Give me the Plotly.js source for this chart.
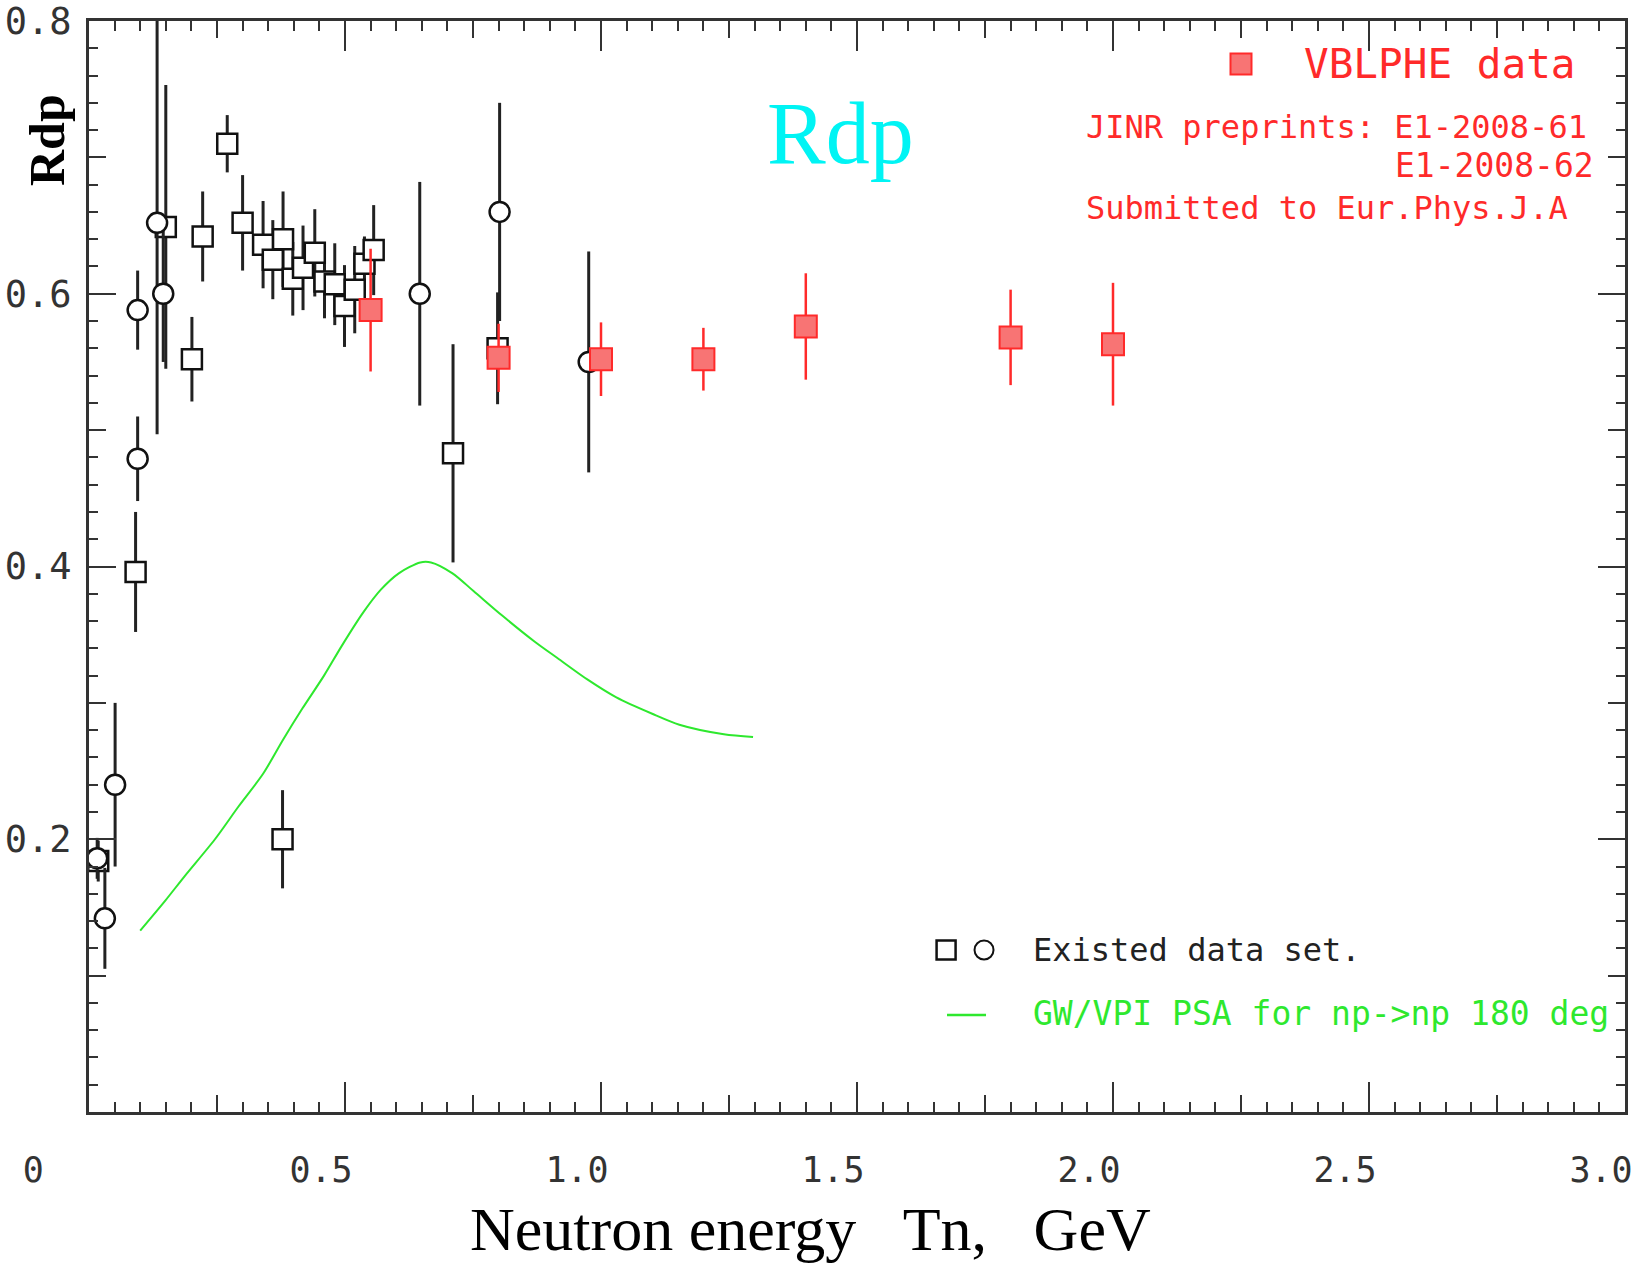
<!DOCTYPE html>
<html><head><meta charset="utf-8">
<script src="https://cdn.plot.ly/plotly-3.0.1.min.js"></script>
<style>html,body{margin:0;padding:0;background:#fff;} #chart{width:1641px;height:1264px;}</style>
</head><body><div id="chart"></div>
<script>
// ---- data ----
const sqX   = [0.018, 0.091, 0.150, 0.201, 0.222, 0.270, 0.300, 0.340, 0.359, 0.379, 0.398, 0.418, 0.441, 0.460, 0.480, 0.499, 0.519, 0.538, 0.556, 0.378, 0.711, 0.798];
const sqY   = [0.184, 0.396, 0.649, 0.552, 0.642, 0.710, 0.652, 0.636, 0.625, 0.640, 0.611, 0.619, 0.630, 0.609, 0.607, 0.591, 0.603, 0.622, 0.632, 0.200, 0.483, 0.560];
const sqErr = [0.015, 0.044, 0.104, 0.031, 0.033, 0.021, 0.035, 0.032, 0.029, 0.035, 0.027, 0.031, 0.032, 0.027, 0.030, 0.030, 0.032, 0.020, 0.033, 0.036, 0.080, 0.041];

const cX   = [0.016, 0.031, 0.051, 0.095, 0.095, 0.133, 0.145, 0.646, 0.802, 0.976];
const cY   = [0.186, 0.142, 0.240, 0.588, 0.479, 0.652, 0.600, 0.600, 0.660, 0.550];
const cErr = [0.015, 0.037, 0.060, 0.029, 0.031, 0.155, 0.050, 0.082, 0.080, 0.081];

const rX   = [0.55, 0.80, 1.00, 1.20, 1.40, 1.80, 2.00];
const rY   = [0.588, 0.553, 0.552, 0.552, 0.576, 0.568, 0.563];
const rErr = [0.045, 0.025, 0.027, 0.023, 0.039, 0.035, 0.045];

const gX = [0.100, 0.149, 0.187, 0.246, 0.292, 0.340, 0.379, 0.417, 0.459, 0.494, 0.535, 0.570, 0.605, 0.647, 0.668, 0.710, 0.751, 0.807, 0.870, 0.918, 0.974, 1.030, 1.100, 1.153, 1.240, 1.297];
const gY = [0.133, 0.155, 0.173, 0.200, 0.224, 0.248, 0.273, 0.296, 0.320, 0.342, 0.366, 0.383, 0.395, 0.403, 0.403, 0.395, 0.382, 0.364, 0.345, 0.332, 0.317, 0.304, 0.292, 0.284, 0.277, 0.275];

const xTickVals = [0, 0.5, 1.0, 1.5, 2.0, 2.5, 3.0];
const xTickText = ['0', '0.5', '1.0', '1.5', '2.0', '2.5', '3.0'];
const xMidTicks = [0.25, 0.75, 1.25, 1.75, 2.25, 2.75];
const yTickVals = [0, 0.2, 0.4, 0.6, 0.8];
const yTickText = ['', '0.2', '0.4', '0.6', '0.8'];
const yMidTicks = [0.1, 0.3, 0.5, 0.7];

const titleText  = 'Rdp';
const yTitleText = 'Rdp';
const xTitleText = 'Neutron energy\u00a0\u00a0\u00a0Tn,\u00a0\u00a0\u00a0GeV';
const vblpheText = 'VBLPHE data';
const jinr1Text  = 'JINR preprints: E1-2008-61';
const jinr2Text  = 'E1-2008-62';
const submText   = 'Submitted to Eur.Phys.J.A';
const existText  = 'Existed data set.';
const gwText     = 'GW/VPI PSA for np->np 180 deg';

// ---- styling ----
const axisColor = '#333';
const mono = 'DejaVu Sans Mono';
const serif = 'Liberation Serif';
const red = '#ff2a2a';
const redFill = '#f87474';
const green = '#2ee82e';
const tickFont = {family: mono, size: 35, color: '#333'};

const traces = [
  { x: gX, y: gY, xaxis: 'x2', yaxis: 'y2', mode: 'lines', type: 'scatter',
    line: {color: green, width: 2, shape: 'spline', smoothing: 0.8}, hoverinfo: 'skip' },
  { x: sqX, y: sqY, mode: 'markers', type: 'scatter',
    marker: {symbol: 'square', size: 20, color: 'white', line: {color: '#111', width: 2.5}},
    error_y: {type: 'data', array: sqErr, visible: true, color: '#222', thickness: 3, width: 0} },
  { x: cX, y: cY, mode: 'markers', type: 'scatter',
    marker: {symbol: 'circle', size: 20, color: 'white', line: {color: '#111', width: 2.5}},
    error_y: {type: 'data', array: cErr, visible: true, color: '#222', thickness: 3, width: 0} },
  { x: rX, y: rY, mode: 'markers', type: 'scatter',
    marker: {symbol: 'square', size: 22, color: redFill, line: {color: red, width: 2}},
    error_y: {type: 'data', array: rErr, visible: true, color: red, thickness: 2.5, width: 0} }
];

function pad0(t){ return t === '0' ? t + '\u00a0\u00a0\u00a0' : t; }

const layout = {
  width: 1641, height: 1264,
  margin: {l: 89, r: 16, t: 21, b: 152},
  paper_bgcolor: 'white', plot_bgcolor: 'white',
  showlegend: false,
  xaxis: {
    range: [0, 3], tickmode: 'array', tickvals: xTickVals, ticktext: xTickText.map(pad0),
    ticks: 'inside', ticklen: 30, tickwidth: 2, tickcolor: axisColor,
    showline: true, linewidth: 3, linecolor: axisColor, mirror: 'ticks',
    showgrid: false, zeroline: false, tickfont: tickFont,
    ticklabelstandoff: 25, ticklabelshift: -24, ticklabeloverflow: 'allow',
    minor: {tickmode: 'linear', tick0: 0, dtick: 0.05, ticks: 'inside', ticklen: 10, tickwidth: 2, tickcolor: axisColor, showgrid: false}
  },
  yaxis: {
    range: [0, 0.8], tickmode: 'array', tickvals: yTickVals, ticktext: yTickText,
    ticks: 'inside', ticklen: 27, tickwidth: 2, tickcolor: axisColor,
    showline: true, linewidth: 3, linecolor: axisColor, mirror: 'ticks',
    showgrid: false, zeroline: false, tickfont: {family: mono, size: 37, color: '#333'},
    ticklabelstandoff: 7, ticklabeloverflow: 'allow',
    minor: {tickmode: 'linear', tick0: 0, dtick: 0.02, ticks: 'inside', ticklen: 9, tickwidth: 2, tickcolor: axisColor, showgrid: false}
  },
  xaxis2: {
    overlaying: 'x', anchor: 'y2', range: [0, 3], tickmode: 'array', tickvals: xMidTicks,
    ticks: 'inside', ticklen: 17, tickwidth: 2, tickcolor: axisColor,
    showticklabels: false, showline: false, mirror: 'ticks', showgrid: false, zeroline: false
  },
  yaxis2: {
    overlaying: 'y', anchor: 'x2', range: [0, 0.8], tickmode: 'array', tickvals: yMidTicks,
    ticks: 'inside', ticklen: 17, tickwidth: 2, tickcolor: axisColor,
    showticklabels: false, showline: false, mirror: 'ticks', showgrid: false, zeroline: false
  },
  annotations: [
    {text: titleText, xref: 'paper', yref: 'paper', x: 0.489, y: 0.897, xanchor: 'center', yanchor: 'middle',
     showarrow: false, font: {family: serif, size: 88, color: '#00f4f4'}},
    {text: '<b>' + yTitleText + '</b>', xref: 'paper', yref: 'paper', x: -0.0273, y: 0.891, xanchor: 'center', yanchor: 'middle',
     textangle: -90, showarrow: false, font: {family: serif, size: 50, color: '#000'}},
    {text: xTitleText, xref: 'paper', yref: 'paper', x: 0.470, y: -0.1075, xanchor: 'center', yanchor: 'middle',
     showarrow: false, font: {family: serif, size: 62, color: '#000'}},
    {text: vblpheText, xref: 'paper', yref: 'paper', x: 0.7895, y: 0.9606, xanchor: 'left', yanchor: 'middle',
     showarrow: false, font: {family: mono, size: 41, color: red}},
    {text: jinr1Text, xref: 'paper', yref: 'paper', x: 0.6475, y: 0.9028, xanchor: 'left', yanchor: 'middle',
     showarrow: false, font: {family: mono, size: 32, color: red}},
    {text: jinr2Text, xref: 'paper', yref: 'paper', x: 0.981, y: 0.868, xanchor: 'right', yanchor: 'middle',
     showarrow: false, font: {family: mono, size: 33, color: red}},
    {text: submText, xref: 'paper', yref: 'paper', x: 0.6475, y: 0.8286, xanchor: 'left', yanchor: 'middle',
     showarrow: false, font: {family: mono, size: 32, color: red}},
    {text: existText, xref: 'paper', yref: 'paper', x: 0.6136, y: 0.1485, xanchor: 'left', yanchor: 'middle',
     showarrow: false, font: {family: mono, size: 32, color: '#222'}},
    {text: gwText, xref: 'paper', yref: 'paper', x: 0.6136, y: 0.0907, xanchor: 'left', yanchor: 'middle',
     showarrow: false, font: {family: mono, size: 33, color: green}}
  ],
  shapes: [
    {type: 'rect', xref: 'paper', yref: 'paper', xsizemode: 'pixel', ysizemode: 'pixel',
     xanchor: 0.75, yanchor: 0.9606, x0: -10.5, x1: 10.5, y0: -10.5, y1: 10.5,
     fillcolor: redFill, line: {color: red, width: 2}},
    {type: 'rect', xref: 'paper', yref: 'paper', xsizemode: 'pixel', ysizemode: 'pixel',
     xanchor: 0.558, yanchor: 0.1485, x0: -9.5, x1: 9.5, y0: -9.5, y1: 9.5,
     fillcolor: 'white', line: {color: '#111', width: 2.5}},
    {type: 'circle', xref: 'paper', yref: 'paper', xsizemode: 'pixel', ysizemode: 'pixel',
     xanchor: 0.5827, yanchor: 0.1485, x0: -9.5, x1: 9.5, y0: -9.5, y1: 9.5,
     fillcolor: 'white', line: {color: '#111', width: 2}},
    {type: 'line', xref: 'paper', yref: 'paper', x0: 0.5586, x1: 0.584, y0: 0.0889, y1: 0.0889,
     line: {color: green, width: 2.5}}
  ]
};

Plotly.newPlot('chart', traces, layout, {displayModeBar: false, staticPlot: true});
</script></body></html>
